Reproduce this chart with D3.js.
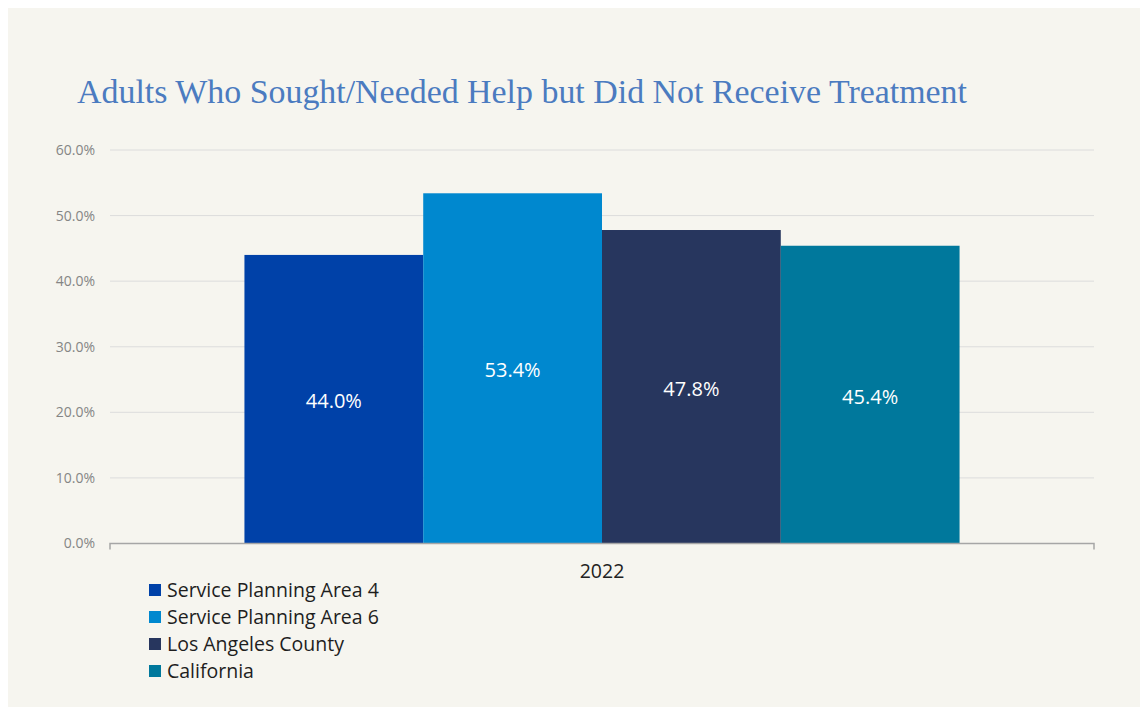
<!DOCTYPE html>
<html>
<head>
<meta charset="utf-8">
<script src="https://cdn.jsdelivr.net/npm/d3@7"></script>
<style>
  html, body { margin: 0; padding: 0; background: #ffffff; }
  svg { display: block; }
</style>
</head>
<body>
<svg id="chart" width="1140" height="709"></svg>
<script>
// Chart data
const categories = ["2022"];
const seriesNames = ["Service Planning Area 4", "Service Planning Area 6", "Los Angeles County", "California"];
const seriesValues = [44.0, 53.4, 47.8, 45.4];
const seriesColors = ["#0041a8", "#0088cf", "#27365e", "#00789c"];
const yTicks = [0, 10, 20, 30, 40, 50, 60];
const titleText = "Adults Who Sought/Needed Help but Did Not Receive Treatment";

const svg = d3.select("#chart");
const sans = "'Open Sans', 'Noto Sans', sans-serif";

// Panel background
svg.append("rect")
  .attr("x", 8).attr("y", 8)
  .attr("width", 1132).attr("height", 699)
  .attr("fill", "#f6f5ef");

// Title
svg.append("text")
  .attr("x", 77).attr("y", 103)
  .attr("font-family", "'Liberation Serif', 'DejaVu Serif', serif")
  .attr("font-size", 33)
  .attr("fill", "#4b7bc0")
  .attr("textLength", 890)
  .attr("lengthAdjust", "spacingAndGlyphs")
  .text(titleText);

const plot = { left: 110, right: 1094, top: 150, bottom: 543.5 };

const y = d3.scaleLinear().domain([0, 60]).range([plot.bottom, plot.top]);

const x0 = d3.scaleBand()
  .domain(categories)
  .range([plot.left, plot.right])
  .paddingInner(0)
  .paddingOuter(0.188);

const x1 = d3.scaleBand()
  .domain(seriesNames)
  .range([0, x0.bandwidth()])
  .padding(0);

// Gridlines
svg.append("g")
  .selectAll("line")
  .data(yTicks.filter(d => d > 0))
  .join("line")
  .attr("x1", plot.left).attr("x2", plot.right)
  .attr("y1", d => y(d)).attr("y2", d => y(d))
  .attr("stroke", "#dcdcdc")
  .attr("stroke-width", 1);

// Y axis labels
const yAxis = d3.axisLeft(y)
  .tickValues(yTicks)
  .tickFormat(d => d3.format(".1f")(d) + "%")
  .tickSize(0)
  .tickPadding(15);

const yg = svg.append("g")
  .attr("transform", `translate(${plot.left},0)`)
  .call(yAxis);
yg.select(".domain").remove();
yg.selectAll("text")
  .attr("font-family", sans)
  .attr("font-size", 14)
  .attr("fill", "#858585");

// Bars
const groups = svg.append("g")
  .selectAll("g")
  .data(categories)
  .join("g")
  .attr("transform", d => `translate(${x0(d)},0)`);

const barData = seriesNames.map((name, i) => ({ name, value: seriesValues[i], color: seriesColors[i] }));

groups.selectAll("rect")
  .data(barData)
  .join("rect")
  .attr("x", d => x1(d.name))
  .attr("y", d => y(d.value))
  .attr("width", x1.bandwidth())
  .attr("height", d => y(0) - y(d.value))
  .attr("fill", d => d.color);

groups.selectAll("text.val")
  .data(barData)
  .join("text")
  .attr("class", "val")
  .attr("x", d => x1(d.name) + x1.bandwidth() / 2)
  .attr("y", d => (y(d.value) + y(0)) / 2 + 2)
  .attr("dy", "0.35em")
  .attr("text-anchor", "middle")
  .attr("font-family", sans)
  .attr("font-size", 20)
  .attr("fill", "#ffffff")
  .text(d => d3.format(".1f")(d.value) + "%");

// X axis
const xAxis = d3.axisBottom(x0).tickSize(0).tickPadding(21);
const xg = svg.append("g")
  .attr("transform", `translate(0,${plot.bottom})`)
  .call(xAxis);
xg.select(".domain")
  .attr("d", `M${plot.left},6V0H${plot.right}V6`)
  .attr("stroke", "#a6a6a6")
  .attr("stroke-width", 1.5)
  .attr("fill", "none");
xg.selectAll("text")
  .attr("font-family", sans)
  .attr("font-size", 19.5)
  .attr("fill", "#222222");

// Legend
const legend = svg.append("g")
  .attr("transform", "translate(149,590)")
  .selectAll("g")
  .data(barData)
  .join("g")
  .attr("transform", (d, i) => `translate(0,${i * 27})`);

legend.append("rect")
  .attr("x", 0).attr("y", -6)
  .attr("width", 12).attr("height", 12)
  .attr("fill", d => d.color);

legend.append("text")
  .attr("x", 18).attr("y", 0)
  .attr("dy", "0.35em")
  .attr("font-family", sans)
  .attr("font-size", 19.5)
  .attr("fill", "#1e1e1e")
  .text(d => d.name);
</script>
</body>
</html>
